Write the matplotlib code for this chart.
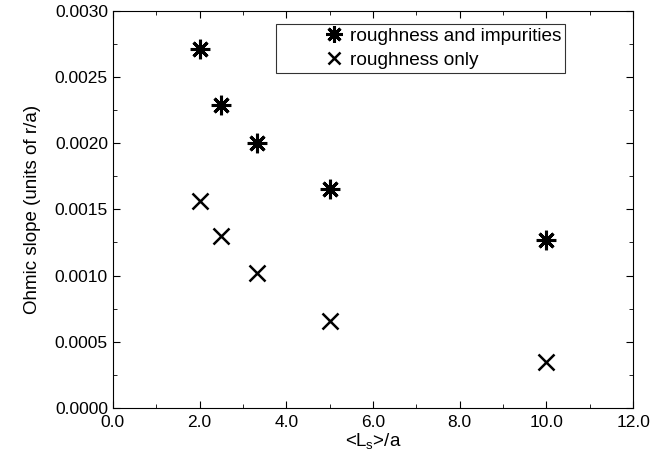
import matplotlib
matplotlib.use("Agg")
import matplotlib.pyplot as plt
from matplotlib.ticker import MultipleLocator, FormatStrFormatter

plt.rcParams["font.family"] = ["Liberation Sans", "DejaVu Sans"]

ls_over_a = [2.0, 2.5, 3.333, 5.0, 10.0]
slope_rough_imp = [0.00271, 0.00229, 0.00200, 0.00165, 0.00127]
slope_rough_only = [0.00156, 0.00130, 0.00102, 0.00066, 0.00035]

fig = plt.figure(figsize=(6.52, 4.61), dpi=100)
ax = fig.add_axes([0.173, 0.115, 0.798, 0.862])

ax.plot(ls_over_a, slope_rough_imp, linestyle="none", marker=(8, 2, 0),
        markersize=14, markeredgewidth=2.2, color="black",
        label="roughness and impurities")
ax.plot(ls_over_a, slope_rough_only, linestyle="none", marker="x",
        markersize=11, markeredgewidth=1.8, color="black",
        label="roughness only")

ax.set_xlim(0, 12)
ax.set_ylim(0, 0.003)
ax.xaxis.set_major_locator(MultipleLocator(2))
ax.xaxis.set_minor_locator(MultipleLocator(1))
ax.yaxis.set_major_locator(MultipleLocator(0.0005))
ax.yaxis.set_minor_locator(MultipleLocator(0.00025))
ax.xaxis.set_major_formatter(FormatStrFormatter("%.1f"))
ax.yaxis.set_major_formatter(FormatStrFormatter("%.4f"))
ax.tick_params(which="both", direction="in", top=True, right=True, labelsize=12.5)
ax.tick_params(which="major", length=5)
ax.tick_params(which="minor", length=3)
ax.tick_params(axis="x", pad=5)

ax.set_xlabel(r"<L$_\mathregular{s}$>/a", fontsize=13.5, labelpad=1)
ax.set_ylabel("Ohmic slope (units of r/a)", fontsize=13.5, labelpad=10)

# marker sits just left of the text, with a wide empty gap on the left
leg = ax.legend(loc="upper right", bbox_to_anchor=(565 / 652, 1 - 24 / 461),
                bbox_transform=fig.transFigure, borderaxespad=0,
                fontsize=13.7, frameon=True, fancybox=False, edgecolor="black",
                handletextpad=-2.0, handlelength=5.7, borderpad=0.2,
                labelspacing=0.35, markerscale=0.85)
leg.get_frame().set_linewidth(0.8)

plt.savefig("out.png", dpi=100)
